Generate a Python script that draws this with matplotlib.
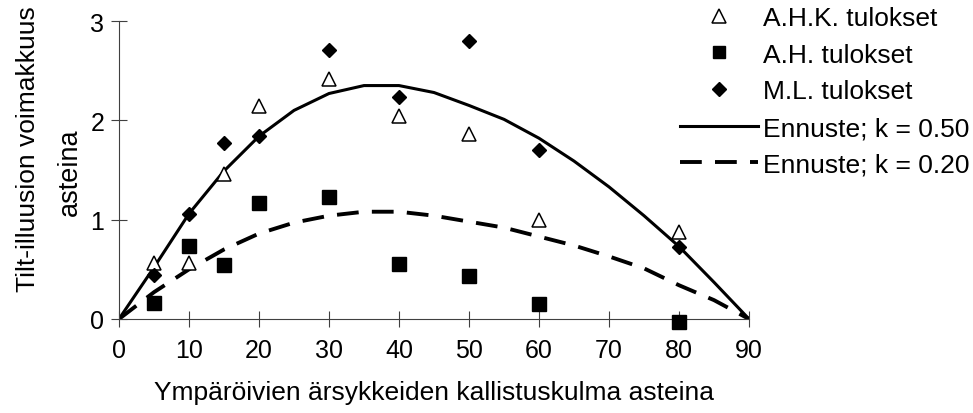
import matplotlib
matplotlib.use("Agg")
import matplotlib.pyplot as plt

plt.rcParams['font.family'] = ['Liberation Sans', 'DejaVu Sans']

# ---- data ----
x_obs = [5, 10, 15, 20, 30, 40, 50, 60, 80]
ahk = [0.56, 0.56, 1.46, 2.14, 2.42, 2.04, 1.86, 1.00, 0.88]
ah = [0.16, 0.73, 0.54, 1.17, 1.23, 0.55, 0.43, 0.15, -0.03]
ml = [0.44, 1.06, 1.77, 1.84, 2.71, 2.23, 2.80, 1.70, 0.72]

x_pred = [0, 5, 10, 15, 20, 25, 30, 35, 40, 45, 50, 55, 60, 65, 70, 75, 80, 85, 90]
k050 = [0, 0.52, 1.06, 1.49, 1.84, 2.10, 2.27, 2.35, 2.35, 2.28, 2.15, 2.01, 1.82,
        1.59, 1.33, 1.04, 0.73, 0.37, 0]
k020 = [0, 0.27, 0.50, 0.70, 0.86, 0.97, 1.04, 1.08, 1.08, 1.04, 0.98, 0.92, 0.83,
        0.74, 0.63, 0.51, 0.34, 0.19, 0]

x_ticks = [0, 10, 20, 30, 40, 50, 60, 70, 80, 90]
y_ticks = [0, 1, 2, 3]

labels = ["A.H.K. tulokset", "A.H. tulokset", "M.L. tulokset",
          "Ennuste; k = 0.50", "Ennuste; k = 0.20"]
xlabel = "Ympäröivien ärsykkeiden kallistuskulma asteina"
ylabel1 = "Tilt-illuusion voimakkuus"
ylabel2 = "asteina"

W, H = 973, 414
fig = plt.figure(figsize=(W / 100, H / 100), dpi=100)
ax = fig.add_axes([119 / W, 1 - 320 / H, (749 - 119) / W, (320 - 22) / H])

l1, = ax.plot(x_pred, k050, color='black', lw=2.2, solid_joinstyle='miter', zorder=2)
l2, = ax.plot(x_pred, k020, color='black', lw=2.8, linestyle=(0, (5.6, 3.4)), zorder=2)

m1, = ax.plot(x_obs, ahk, linestyle='none', marker='^', ms=10, mfc='white',
              mec='black', mew=1.1, clip_on=False, zorder=4)
m2, = ax.plot(x_obs, ah, linestyle='none', marker='s', ms=9.5, mfc='black',
              mec='black', clip_on=False, zorder=4)
m3, = ax.plot(x_obs, ml, linestyle='none', marker='D', ms=7, mfc='black',
              mec='black', clip_on=False, zorder=4)

ax.set_xlim(0, 90)
ax.set_ylim(0, 3)
ax.set_xticks(x_ticks)
ax.set_yticks(y_ticks)
for s in ['top', 'right']:
    ax.spines[s].set_visible(False)
for s in ['left', 'bottom']:
    ax.spines[s].set_color('#404040')
    ax.spines[s].set_linewidth(0.8)
ax.tick_params(direction='inout', length=11, width=0.8, color='#404040',
               labelsize=18, labelcolor='black')
ax.tick_params(axis='x', pad=8)
ax.tick_params(axis='y', pad=5)

ax.set_xlabel(xlabel, fontsize=19, labelpad=13)

fig.text(35 / W, 1 - 149 / H, ylabel1, rotation=90, rotation_mode='anchor',
         ha='center', va='baseline', fontsize=19)
fig.text(77 / W, 1 - 172 / H, ylabel2, rotation=90, rotation_mode='anchor',
         ha='center', va='baseline', fontsize=19.5)

fig.legend([m1, m2, m3, l1, l2], labels, loc='upper left',
           bbox_to_anchor=(680 / W, 1 - 7 / H), bbox_transform=fig.transFigure,
           frameon=False, fontsize=19, handlelength=2.95, handletextpad=0.2,
           labelspacing=0.48, borderpad=0, borderaxespad=0, numpoints=1,
           markerscale=0.95)

fig.savefig("out.png", dpi=100)
